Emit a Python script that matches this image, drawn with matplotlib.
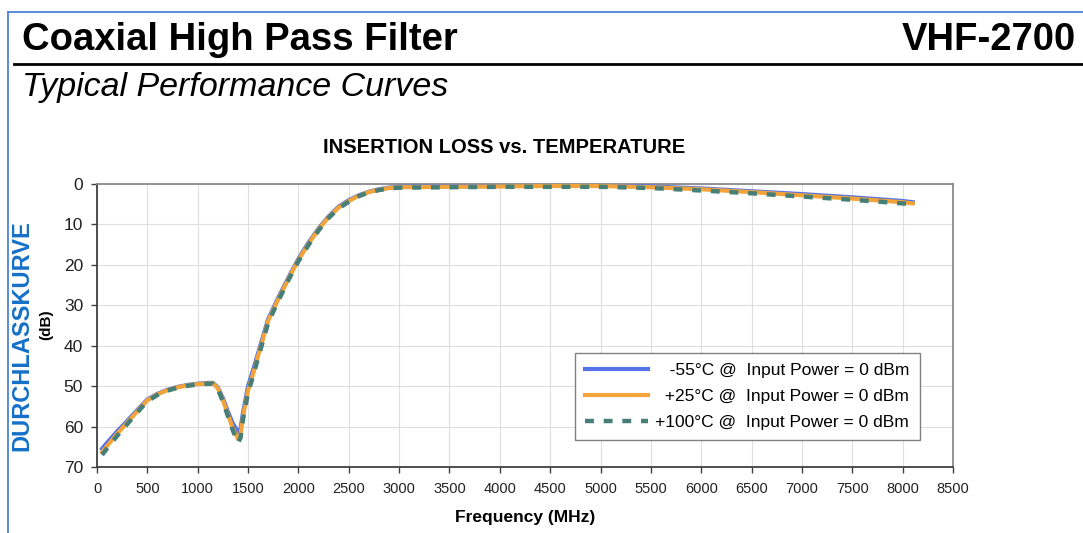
import matplotlib
matplotlib.use("Agg")
import matplotlib.pyplot as plt
from matplotlib.lines import Line2D

plt.rcParams['font.family'] = ['Liberation Sans', 'DejaVu Sans']

# insertion loss (dB)
freq = [50, 100, 200, 300, 400, 500, 600, 700, 800, 900,
        1000, 1100, 1150, 1200, 1250, 1300, 1350, 1400, 1425, 1450,
        1500, 1550, 1600, 1700, 1800, 1900, 2000, 2100, 2200, 2300,
        2400, 2500, 2600, 2700, 2800, 2900, 3000, 3500, 4000, 4500,
        5000, 5500, 6000, 6500, 7000, 7500, 8000, 8100]

loss_m55 = [65.5, 64.0, 61.2, 58.6, 55.9, 53.3, 51.9, 50.9, 50.2, 49.7,
            49.4, 49.2, 49.2, 50.3, 53.0, 56.3, 59.3, 61.3, 60.5, 56.5,
            50.0, 46.0, 41.8, 33.4, 28.1, 23.2, 18.5, 14.5, 11.0, 8.0,
            5.6, 4.0, 2.8, 1.9, 1.3, 0.9, 0.7, 0.6, 0.5, 0.4,
            0.4, 0.6, 1.1, 1.8, 2.5, 3.3, 4.2, 4.5]

loss_p25 = [66.3, 64.8, 61.8, 59.0, 56.2, 53.5, 52.0, 51.0, 50.3, 49.8,
            49.5, 49.3, 49.3, 50.5, 53.5, 57.0, 60.5, 63.0, 62.0, 57.5,
            51.0, 47.0, 42.5, 33.8, 28.5, 23.5, 18.8, 14.8, 11.2, 8.2,
            5.8, 4.2, 2.9, 2.0, 1.4, 1.0, 0.8, 0.7, 0.6, 0.5,
            0.5, 0.8, 1.3, 2.0, 2.8, 3.6, 4.5, 4.8]

loss_p100 = [67.0, 65.4, 62.3, 59.4, 56.5, 53.7, 52.2, 51.1, 50.4, 49.9,
             49.6, 49.4, 49.4, 50.7, 53.8, 57.4, 61.0, 64.0, 62.8, 58.2,
             51.6, 47.5, 43.0, 34.3, 28.9, 23.8, 19.1, 15.1, 11.5, 8.4,
             6.0, 4.4, 3.0, 2.1, 1.5, 1.1, 0.9, 0.8, 0.7, 0.7,
             0.7, 1.0, 1.6, 2.3, 3.1, 3.9, 4.8, 5.1]

labels = ["   -55°C @  Input Power = 0 dBm",
          "  +25°C @  Input Power = 0 dBm",
          "+100°C @  Input Power = 0 dBm"]

xticks = list(range(0, 8501, 500))
yticks = list(range(0, 71, 10))

W, H = 1083, 533
fig = plt.figure(figsize=(W / 100, H / 100), dpi=100)
fig.patch.set_facecolor("white")

# page decoration: blue frame, headings, black rule
border = "#4f82d6"
fig.add_artist(Line2D([8 / W, 1], [1 - 12 / H, 1 - 12 / H], color=border, lw=1.3))
fig.add_artist(Line2D([8 / W, 8 / W], [0, 1 - 12 / H], color=border, lw=1.3))
fig.add_artist(Line2D([14 / W, 1], [1 - 64 / H, 1 - 64 / H], color="black", lw=2.0))

fig.text(22 / W, 1 - 50 / H, "Coaxial High Pass Filter", fontsize=27.5,
         fontweight="bold", va="baseline", ha="left")
fig.text(1076 / W, 1 - 50 / H, "VHF-2700", fontsize=27.5,
         fontweight="bold", va="baseline", ha="right")
fig.text(22 / W, 1 - 96 / H, "Typical Performance Curves", fontsize=24.5,
         style="italic", va="baseline", ha="left")

ax = fig.add_axes([97 / W, 66 / H, 856 / W, 283 / H])

ax.plot(freq, loss_m55, color="#5572e8", lw=3.0, zorder=3, label=labels[0])
ax.plot(freq, loss_p25, color="#f2a43a", lw=3.0, zorder=4, label=labels[1])
ax.plot(freq, loss_p100, color="#467f78", lw=3.2, dashes=(2.0, 2.2),
        zorder=5, label=labels[2])

ax.set_xlim(0, 8500)
ax.set_ylim(70, 0)
ax.set_xticks(xticks)
ax.set_yticks(yticks)
ax.grid(True, color="#dedede", lw=0.8)
ax.set_axisbelow(True)

for side in ["top", "right"]:
    ax.spines[side].set_color("#8a8a8a")
    ax.spines[side].set_linewidth(1.3)
for side in ["left", "bottom"]:
    ax.spines[side].set_color("#404040")
    ax.spines[side].set_linewidth(1.3)

ax.tick_params(axis="y", labelsize=12.5, length=4, width=1, color="#404040",
               pad=6, labelcolor="#222222")
ax.tick_params(axis="x", labelsize=10.5, length=4, width=1, color="#404040",
               pad=7, labelcolor="#222222")

ax.set_title("INSERTION LOSS vs. TEMPERATURE", fontsize=14.5,
             fontweight="bold", pad=22, x=(504 - 97) / 856)
ax.set_xlabel("Frequency (MHz)", fontsize=12.5, fontweight="bold", labelpad=10)

# y axis titles sit in the left margin
fig.text(46 / W, 1 - 325 / H, "(dB)", fontsize=11, fontweight="bold",
         rotation=90, va="center", ha="center")
fig.text(22 / W, 1 - 336 / H, "DURCHLASSKURVE", fontsize=17, fontweight="bold",
         color="#1570c8", rotation=90, va="center", ha="center")

leg = ax.legend(loc="lower right", bbox_to_anchor=(0.961, 0.0954),
                borderaxespad=0, fontsize=12.5, fancybox=False,
                edgecolor="#808080", framealpha=1, handlelength=3.6,
                handletextpad=0.4, labelspacing=0.6, borderpad=0.6)
leg.get_frame().set_linewidth(1.0)

fig.savefig("out.png", dpi=100, facecolor="white")
